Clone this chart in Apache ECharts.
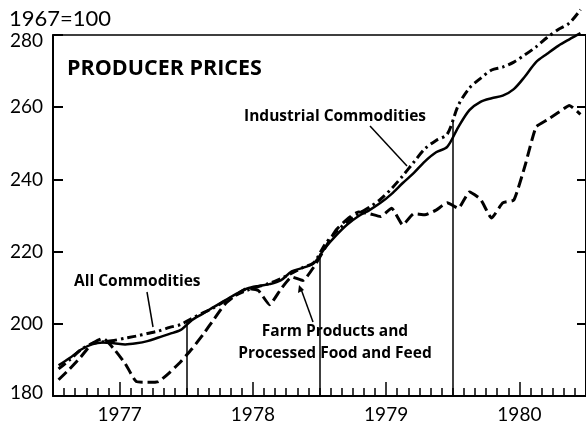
<!DOCTYPE html>
<html><head><meta charset="utf-8">
<script src="https://cdn.jsdelivr.net/npm/echarts@6/dist/echarts.min.js"></script>
<style>html,body{margin:0;padding:0;background:#fff}#c{width:586px;height:427px}</style>
</head><body><div id="c"></div>
<script>
// Monthly index values (1967=100), Jan 1977 .. Dec 1980
const yearLabels = ['1977', '1978', '1979', '1980'];
const yTicks = [180, 200, 220, 240, 260, 280];
const allCommodities = [
  188.5, 190.5, 192.8, 194.3, 194.8, 194.6, 194.3, 194.6, 195.2, 196.2, 197.2, 198.3,
  201.0, 202.8, 204.7, 206.5, 208.3, 209.8, 210.5, 211.0, 212.0, 214.5, 215.5, 216.8,
  221.0, 224.5, 227.5, 229.8, 231.5, 233.5, 236.0, 239.0, 241.8, 245.0, 247.5, 249.0,
  254.5, 259.2, 261.5, 262.5, 263.2, 265.0, 268.5, 272.5, 274.8, 277.0, 278.8, 280.5
];
const industrialCommodities = [
  187.5, 190.0, 192.8, 194.5, 195.0, 195.4, 196.0, 196.6, 197.3, 198.0, 199.0, 199.8,
  201.5, 203.0, 204.5, 206.3, 208.0, 209.3, 210.3, 211.2, 212.5, 214.0, 215.6, 217.0,
  222.0, 225.5, 228.3, 230.5, 232.3, 234.5, 237.5, 241.0, 244.8, 248.5, 250.8, 252.5,
  260.5, 265.3, 268.0, 270.3, 271.1, 272.5, 274.5, 276.7, 279.3, 281.5, 283.3, 287.0
];
const farmFoodFeed = [
  184.5, 187.5, 190.8, 194.5, 196.0, 193.0, 189.0, 184.0, 183.8, 184.0, 186.5, 189.5,
  193.0, 197.0, 201.3, 205.5, 208.0, 209.8, 209.2, 205.3, 209.5, 213.0, 212.0, 215.8,
  221.0, 226.0, 229.0, 231.0, 230.5, 229.7, 232.0, 227.4, 230.5, 230.2, 231.5, 233.5,
  232.0, 236.5, 234.5, 229.3, 233.5, 234.3, 243.7, 254.5, 256.5, 258.5, 260.5, 258.0
];

const nMonths = allCommodities.length;
const toPts = arr => arr.map((v, i) => [i + 0.5, v]);
const monthTicks = [];
for (let i = 0; i <= nMonths; i++) monthTicks.push(i);
const midYears = yearLabels.map((y, i) => i * 12 + 6);
const yearEnds = [12, 24, 36];
const yearLines = yearEnds.map(b => {
  const top = (industrialCommodities[b - 1] + industrialCommodities[b]) / 2;
  return [{ coord: [b, 180] }, { coord: [b, top] }];
});

const numFont = 'Lato';
const boldFont = '"Open Sans"';
const txt = (text, x, y, font, align) => ({
  type: 'text', x: x, y: y,
  style: { text: text, font: font, fill: '#000', align: align || 'left', textAlign: align || 'left', verticalAlign: 'middle', textVerticalAlign: 'middle' }
});
const chart = echarts.init(document.getElementById('c'), null, { renderer: 'canvas' });
chart.setOption({
  animation: false,
  backgroundColor: '#fff',
  grid: { left: 53, top: 35, width: 534, height: 361, containLabel: false },
  xAxis: [
    {
      type: 'value', min: 0, max: nMonths, position: 'bottom',
      splitLine: { show: false },
      axisLine: { show: true, onZero: false, lineStyle: { color: '#000', width: 2 } },
      axisTick: { show: true, inside: true, length: 8, customValues: monthTicks, lineStyle: { color: '#000', width: 1.5 } },
      axisLabel: {
        customValues: midYears, margin: 9, color: '#000', fontSize: 19, fontFamily: numFont,
        formatter: v => yearLabels[Math.round((v - 6) / 12)] || ''
      }
    },
    {
      type: 'value', min: 0, max: nMonths, position: 'bottom',
      splitLine: { show: false },
      axisLine: { show: false },
      axisTick: { show: true, inside: true, length: 14, customValues: midYears, lineStyle: { color: '#000', width: 1.5 } },
      axisLabel: { show: false }
    },
    {
      type: 'value', min: 0, max: nMonths, position: 'top',
      splitLine: { show: false },
      axisLine: { show: true, onZero: false, lineStyle: { color: '#000', width: 1.5 } },
      axisTick: { show: false },
      axisLabel: { show: false }
    }
  ],
  yAxis: [
    {
      type: 'value', min: yTicks[0], max: yTicks[yTicks.length - 1], interval: 20, position: 'left',
      splitLine: { show: false },
      axisLine: { show: true, onZero: false, lineStyle: { color: '#000', width: 2 } },
      axisTick: { show: true, inside: true, length: 10, lineStyle: { color: '#000', width: 2 } },
      axisLabel: {
        margin: 10, color: '#000', fontSize: 19, fontFamily: numFont,
        formatter: v => v === 280 ? '{t|280}' : (v === 180 ? '{b|180}' : String(v)),
        rich: {
          t: { padding: [12, 0, 0, 0], fontSize: 19, fontFamily: numFont, color: '#000' },
          b: { padding: [0, 0, 6, 0], fontSize: 19, fontFamily: numFont, color: '#000' }
        }
      }
    },
    {
      type: 'value', min: yTicks[0], max: yTicks[yTicks.length - 1], interval: 20, position: 'right',
      splitLine: { show: false },
      axisLine: { show: true, onZero: false, lineStyle: { color: '#000', width: 2 } },
      axisTick: { show: true, inside: true, length: 9, lineStyle: { color: '#000', width: 2 } },
      axisLabel: { show: false }
    }
  ],
  series: [
    {
      name: 'Farm Products and Processed Food and Feed', type: 'line', data: toPts(farmFoodFeed),
      symbol: 'none', clip: false, smooth: 0.15,
      lineStyle: { color: '#000', width: 3, type: [11, 5], cap: 'butt' }
    },
    {
      name: 'Industrial Commodities', type: 'line', data: toPts(industrialCommodities),
      symbol: 'none', clip: false, smooth: 0.3,
      lineStyle: { color: '#000', width: 3, type: [9, 4, 2.5, 4], cap: 'butt' },
      markLine: {
        silent: true, symbol: 'none', label: { show: false },
        lineStyle: { color: '#000', width: 1.5, type: 'solid' },
        data: yearLines
      }
    },
    {
      name: 'All Commodities', type: 'line', data: toPts(allCommodities),
      symbol: 'none', clip: false, smooth: 0.3,
      lineStyle: { color: '#000', width: 2.5, type: 'solid' }
    }
  ],
  graphic: [
    txt('1967=100', 9, 19, '22px ' + numFont),
    txt('PRODUCER PRICES', 67, 69, 'bold 21.5px ' + boldFont),
    txt('Industrial Commodities', 244, 117, 'bold 15.5px ' + boldFont),
    txt('All Commodities', 74, 282, 'bold 15.5px ' + boldFont),
    txt('Farm Products and', 335, 332, 'bold 15.5px ' + boldFont, 'center'),
    txt('Processed Food and Feed', 335, 354, 'bold 15.5px ' + boldFont, 'center'),
    { type: 'line', shape: { x1: 370, y1: 126, x2: 407, y2: 166 }, style: { stroke: '#000', lineWidth: 1.5 } },
    { type: 'line', shape: { x1: 147, y1: 292, x2: 153, y2: 327 }, style: { stroke: '#000', lineWidth: 1.5 } },
    { type: 'line', shape: { x1: 313, y1: 322, x2: 301, y2: 289 }, style: { stroke: '#000', lineWidth: 1.5 } },
    { type: 'polygon', shape: { points: [[299, 285], [298, 293], [304, 290]] }, style: { fill: '#000' } }
  ]
});
</script></body></html>
